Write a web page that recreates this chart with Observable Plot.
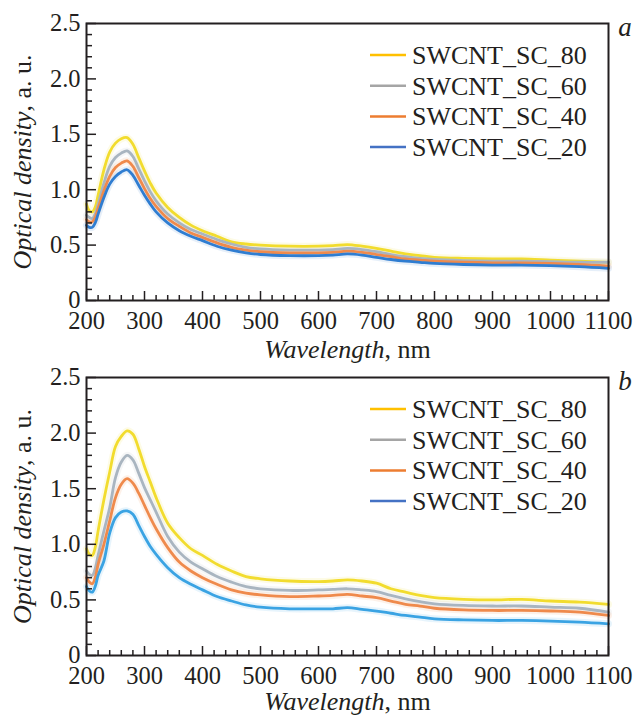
<!DOCTYPE html>
<html>
<head>
<meta charset="utf-8">
<script src="https://cdn.jsdelivr.net/npm/d3@7"></script>
<script src="https://cdn.jsdelivr.net/npm/@observablehq/plot@0.6"></script>
<style>
  html, body { margin: 0; padding: 0; background: #fff; }
  #chart { width: 640px; }
  #chart svg { display: block; overflow: visible; }
</style>
</head>
<body>
<div id="chart"></div>
<script>
// ---------- data ----------
const wavelengths = [200,205,210,215,220,230,240,250,260,270,280,290,300,310,320,340,360,380,400,425,450,475,500,550,600,625,650,675,700,725,750,775,800,850,900,950,1000,1050,1100];
const seriesNames = ["SWCNT_SC_80", "SWCNT_SC_60", "SWCNT_SC_40", "SWCNT_SC_20"];

// panel a
const a_SC80 = [0.87,0.81,0.80,0.84,0.95,1.18,1.34,1.42,1.46,1.47,1.41,1.29,1.17,1.06,0.97,0.84,0.75,0.68,0.63,0.58,0.53,0.51,0.50,0.49,0.49,0.495,0.505,0.49,0.47,0.445,0.42,0.405,0.39,0.38,0.375,0.375,0.365,0.355,0.345];
const a_SC60 = [0.77,0.75,0.74,0.78,0.87,1.06,1.21,1.29,1.33,1.35,1.30,1.19,1.08,0.98,0.90,0.78,0.70,0.64,0.60,0.55,0.51,0.48,0.465,0.455,0.455,0.46,0.47,0.46,0.44,0.415,0.395,0.38,0.37,0.36,0.355,0.355,0.35,0.345,0.345];
const a_SC40 = [0.73,0.71,0.71,0.75,0.83,0.99,1.12,1.20,1.24,1.26,1.21,1.11,1.01,0.92,0.85,0.74,0.67,0.61,0.57,0.52,0.48,0.455,0.44,0.43,0.43,0.435,0.445,0.435,0.415,0.395,0.375,0.365,0.355,0.345,0.34,0.34,0.335,0.325,0.31];
const a_SC20 = [0.68,0.66,0.66,0.70,0.78,0.93,1.05,1.12,1.16,1.18,1.13,1.04,0.95,0.87,0.80,0.70,0.63,0.58,0.54,0.49,0.455,0.43,0.415,0.405,0.405,0.41,0.42,0.41,0.39,0.37,0.355,0.345,0.335,0.325,0.32,0.32,0.315,0.305,0.29];

// panel b
const b_SC80 = [0.96,0.91,0.90,0.97,1.12,1.40,1.65,1.88,1.97,2.02,1.99,1.86,1.70,1.56,1.42,1.19,1.06,0.96,0.90,0.82,0.76,0.71,0.69,0.67,0.665,0.67,0.68,0.67,0.65,0.60,0.57,0.54,0.52,0.505,0.50,0.505,0.49,0.48,0.46];
const b_SC60 = [0.76,0.73,0.72,0.78,0.90,1.12,1.33,1.60,1.74,1.80,1.76,1.64,1.51,1.40,1.29,1.07,0.93,0.84,0.78,0.71,0.66,0.62,0.60,0.585,0.59,0.595,0.60,0.59,0.575,0.54,0.51,0.485,0.465,0.45,0.445,0.445,0.435,0.425,0.39];
const b_SC40 = [0.70,0.66,0.645,0.70,0.82,1.00,1.21,1.42,1.54,1.59,1.55,1.46,1.35,1.24,1.14,0.97,0.84,0.76,0.70,0.64,0.59,0.56,0.545,0.53,0.535,0.54,0.55,0.535,0.52,0.49,0.46,0.445,0.425,0.41,0.405,0.405,0.40,0.39,0.36];
const b_SC20 = [0.62,0.58,0.57,0.62,0.72,0.85,1.10,1.24,1.29,1.30,1.27,1.17,1.07,0.98,0.91,0.79,0.70,0.64,0.59,0.53,0.49,0.455,0.435,0.42,0.42,0.42,0.43,0.415,0.40,0.38,0.36,0.345,0.33,0.32,0.315,0.315,0.31,0.30,0.285];

const xMajorTicks = [200,300,400,500,600,700,800,900,1000,1100];
const xTickLabels = ["200","300","400","500","600","700","800","900","1000","1100"];
const yMajorTicks = [0,0.5,1,1.5,2,2.5];
const yTickLabels = ["0","0.5","1.0","1.5","2.0","2.5"];
const xMinorTicks = d3.range(200, 1101, 20).filter(v => v % 100 !== 0);
const yMinorTicks = d3.range(1, 25).map(v => v / 10).filter((v, i) => (i + 1) % 5 !== 0);

const panelLetters = ["a", "b"];
const lineColorsA = ["#f2dc2e", "#a9b5c0", "#ef8a4c", "#2f7dd1"];
const lineColorsB = ["#f2dc2e", "#a9b5c0", "#ef8a4c", "#3aa3e3"];
const legendColors = ["#ffc000", "#a5a5a5", "#ed7d31", "#4472c4"];

const INK = "#231f20";
const SERIF = "'Liberation Serif', 'Times New Roman', serif";

function makePanel({values, colors, letter, height, marginTop, marginBottom, xLabelOffset}) {
  const rows = [];
  seriesNames.forEach((name, s) => {
    values[s].forEach((v, i) => rows.push({wavelength: wavelengths[i], od: v, series: name}));
  });
  const marginLeft = 86, marginRight = 32, width = 640;
  const frameW = width - marginLeft - marginRight;
  const frameH = height - marginTop - marginBottom;

  const plot = Plot.plot({
    width, height, marginLeft, marginRight, marginTop, marginBottom,
    style: {fontFamily: SERIF, fontSize: "24px", color: INK, background: "transparent", overflow: "visible"},
    x: {type: "linear", domain: [200, 1100]},
    y: {type: "linear", domain: [0, 2.5]},
    color: {domain: seriesNames, range: colors},
    marks: [
      Plot.line(rows, {x: "wavelength", y: "od", z: "series", stroke: "series", strokeWidth: 7, strokeOpacity: 0.12, curve: "catmull-rom"}),
      Plot.line(rows, {x: "wavelength", y: "od", z: "series", stroke: "series", strokeWidth: 2.8, curve: "catmull-rom"}),
      Plot.ruleX(xMinorTicks, {x: d => d, insetTop: frameH - 5, stroke: INK, strokeWidth: 1.5}),
      Plot.ruleX(xMajorTicks, {x: d => d, insetTop: frameH - 9, stroke: INK, strokeWidth: 1.5}),
      Plot.ruleY(yMinorTicks, {y: d => d, insetRight: frameW - 6, stroke: INK, strokeWidth: 1.5}),
      Plot.ruleY(yMajorTicks, {y: d => d, insetRight: frameW - 10, stroke: INK, strokeWidth: 1.5}),
      Plot.frame({stroke: INK, strokeWidth: 2}),
      Plot.axisX({ticks: xMajorTicks, tickSize: 0, tickPadding: 11, tickFormat: d => xTickLabels[xMajorTicks.indexOf(d)], label: "Wavelength, nm", labelAnchor: "center", labelOffset: xLabelOffset, fontSize: 24.5}),
      Plot.axisY({ticks: yMajorTicks, tickSize: 0, tickPadding: 6, tickFormat: d => yTickLabels[yMajorTicks.indexOf(d)], label: "Optical density, a. u.", labelAnchor: "center", labelOffset: 74, fontSize: 24.5})
    ]
  });

  const svg = d3.select(plot.tagName.toLowerCase() === "svg" ? plot : plot.querySelector("svg"));

  // mixed italic axis labels
  const xl = svg.select('g[aria-label="x-axis label"] text');
  if (!xl.empty()) {
    xl.text(null).attr("font-size", 26);
    xl.append("tspan").attr("font-style", "italic").text("Wavelength");
    xl.append("tspan").text(", nm");
  }
  const yl = svg.select('g[aria-label="y-axis label"] text');
  if (!yl.empty()) {
    yl.text(null).attr("font-size", 26);
    yl.append("tspan").attr("font-style", "italic").text("Optical density");
    yl.append("tspan").text(", a. u.");
  }

  // legend inside the frame
  const lg = svg.append("g").attr("font-family", SERIF).attr("font-size", 26)
    .attr("fill", INK).attr("text-anchor", "start");
  seriesNames.forEach((name, i) => {
    const y = marginTop + 32 + i * 30.7;
    lg.append("line").attr("x1", 370).attr("x2", 406).attr("y1", y).attr("y2", y)
      .attr("stroke", legendColors[i]).attr("stroke-width", 2.5);
    lg.append("text").attr("x", 412).attr("y", y).attr("dy", "0.34em")
      .attr("text-anchor", "start").text(name);
  });

  // panel letter
  svg.append("text").attr("x", 625).attr("y", marginTop + 13)
    .attr("text-anchor", "middle").attr("font-family", SERIF).attr("font-style", "italic")
    .attr("font-size", 27).attr("fill", INK).text(letter);

  return plot;
}

const chart = document.getElementById("chart");
chart.append(makePanel({values: [a_SC80, a_SC60, a_SC40, a_SC20], colors: lineColorsA, letter: panelLetters[0], height: 362, marginTop: 23, marginBottom: 62, xLabelOffset: 57}));
chart.append(makePanel({values: [b_SC80, b_SC60, b_SC40, b_SC20], colors: lineColorsB, letter: panelLetters[1], height: 354, marginTop: 15, marginBottom: 61, xLabelOffset: 54}));
</script>
</body>
</html>
